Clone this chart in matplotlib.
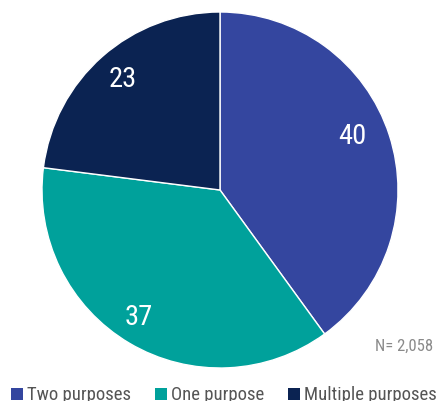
import matplotlib.pyplot as plt
from matplotlib.patches import Patch
from matplotlib.transforms import offset_copy

labels = ['Two purposes', 'One purpose', 'Multiple purposes']
values = [40, 37, 23]
colors = ['#34469f', '#00a19b', '#0b2352']
sample_note = 'N= 2,058'

plt.rcParams['font.family'] = ['Roboto Condensed', 'DejaVu Sans']

fig = plt.figure(figsize=(4.39, 4.01), dpi=100)
ax = fig.add_axes([42 / 439, 1 - 368 / 401, 356 / 439, 356 / 401])

wedges, texts, autotexts = ax.pie(
    values, colors=colors, startangle=90, counterclock=False,
    autopct=lambda p: f'{p:.0f}', pctdistance=0.83,
    wedgeprops=dict(edgecolor='white', linewidth=1),
    textprops=dict(color='white', fontsize=20.5))
ax.set_xlim(-1, 1)
ax.set_ylim(-1, 1)

# small nudges (in points) so the numbers sit a bit further inside
nudges = [(-6, 6), (-4, 0), (0, 0)]
for t, (dx, dy) in zip(autotexts, nudges):
    t.set_transform(offset_copy(ax.transData, fig=fig, x=dx, y=dy, units='points'))

fig.text(433 / 439, 1 - 346 / 401, sample_note, ha='right', va='center',
         fontsize=12, color='#8a8a8a')

handles = [Patch(facecolor=c) for c in colors]
fig.legend(handles, labels, loc='lower center', bbox_to_anchor=(0.51, -0.008),
           ncol=3, frameon=False, fontsize=13.5, labelcolor='#555555',
           borderpad=0, borderaxespad=0,
           handlelength=0.62, handleheight=0.62, handletextpad=0.2,
           columnspacing=1.3)

fig.savefig('out.png', dpi=100)
